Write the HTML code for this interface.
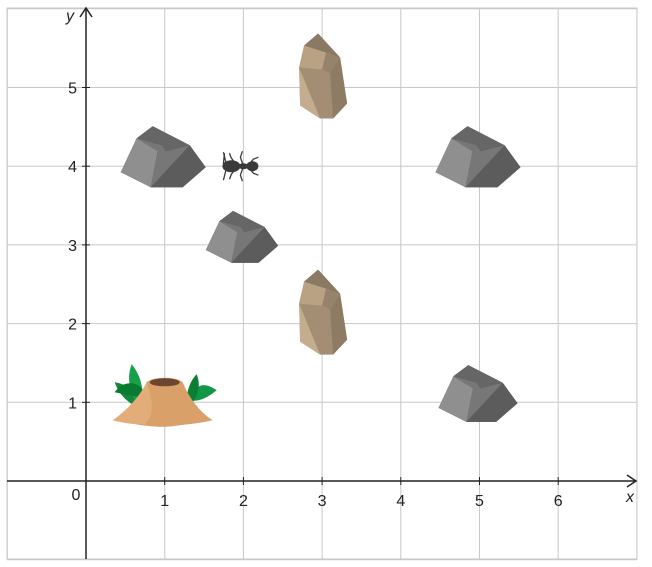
<!DOCTYPE html>
<html><head><meta charset="utf-8"><style>
html,body{margin:0;padding:0;background:#fff;}
svg{display:block;font-family:"Liberation Sans",sans-serif;}
</style></head><body>
<svg id="chart" width="652" height="567" viewBox="0 0 652 567" xmlns="http://www.w3.org/2000/svg">
<defs>
  <g id="rock">
    <polygon points="-11,-31 -27,-19 -43,15 -13,30 19,30 42,10 26,-12" fill="#575757"/>
    <polygon points="-27,-19 -43,15 -13,30 -6,-6" fill="#8f8f8f"/>
    <polygon points="-27,-19 -6,-6 -13,30 19,30 26,-12 2,-6 -2,-12" fill="#777"/>
    <polygon points="-13,30 19,30 42,10 26,-12" fill="#5c5c5c"/>
    <polygon points="-11,-31 -27,-19 -2,-12 2,-6 26,-12" fill="#666"/>
  </g>
  <g id="stone">
    <polygon points="-4,-54 -18,-42 -23,-20 -22,18 -2,31 11,31 25,16 18,-30" fill="#a38e74"/>
    <polygon points="-18,-42 -23,-20 -22,18 -2,31 -23,-20" fill="#c4ad8e"/>
    <polygon points="-18,-42 -23,-20 0,-18 4,-35" fill="#b9a284"/>
    <polygon points="-4,-54 -18,-42 4,-35 18,-30" fill="#8b7963"/>
    <polygon points="4,-35 18,-30 8,-14 0,-18" fill="#96836b"/>
    <polygon points="18,-30 25,16 11,31 8,-14" fill="#8e7b64"/>
  </g>
</defs>
<g id="grid"></g>
<g id="axes"></g>
<g id="objects"></g>
</svg>
<script>
const xTicks = [1,2,3,4,5,6];
const yTicks = [1,2,3,4,5];
const rocksX = [1,2,5,5];
const rocksY = [4,3,4,1];
const rocksScale = [1,0.85,1,0.93];
const stonesX = [3,3];
const stonesY = [5,2];
const antX = [2]; const antY = [4];
const hillX = [1]; const hillY = [1];

const X0=86, Y0=481, S=78.7;
const sx = v => X0 + v*S;
const sy = v => Y0 - v*S;
const NS="http://www.w3.org/2000/svg";
function mk(tag, attrs, parent){const e=document.createElementNS(NS,tag);for(const k in attrs)e.setAttribute(k,attrs[k]);parent.appendChild(e);return e;}
const grid=document.getElementById('grid'), axes=document.getElementById('axes'), objs=document.getElementById('objects');

for(let i=-1;i<=7;i++){const x=sx(i); if(x<7||x>638)continue;
  const l=mk('line',{x1:x,y1:8,x2:x,y2:559,stroke:'#c8c8c8','stroke-width':1},grid);
  
  }
for(let j=-1;j<=6;j++){const y=sy(j); if(y<7||y>560)continue;
  const l=mk('line',{x1:7,y1:y,x2:637,y2:y,stroke:'#c8c8c8','stroke-width':1},grid);
  
  }
const b=mk('rect',{x:7,y:8,width:630,height:551,fill:'none',stroke:'#c8c8c8'},grid);



let a=mk('line',{x1:7,y1:Y0,x2:636,y2:Y0,stroke:'#222','stroke-width':1.5},axes);


a=mk('polyline',{points:`627,475 636,${Y0} 627,487`,fill:'none',stroke:'#222','stroke-width':1.5},axes);


a=mk('line',{x1:X0,y1:559,x2:X0,y2:8,stroke:'#222','stroke-width':1.5},axes);


a=mk('polyline',{points:`80,17 ${X0},8 92,17`,fill:'none',stroke:'#222','stroke-width':1.5},axes);



xTicks.forEach(v=>{
  const t=mk('line',{x1:sx(v),y1:Y0-4,x2:sx(v),y2:Y0+4,stroke:'#222'},axes);
  
  
  const l=mk('text',{x:sx(v),y:Y0+25,'text-anchor':'middle','font-size':16,fill:'#222'},axes);
  l.textContent=v;
  
  
});
yTicks.forEach(v=>{
  const t=mk('line',{x1:X0-4,y1:sy(v),x2:X0+4,y2:sy(v),stroke:'#222'},axes);
  
  
  const l=mk('text',{x:X0-9,y:sy(v)+6,'text-anchor':'end','font-size':16,fill:'#222'},axes);
  l.textContent=v;
  
  
});
let t=mk('text',{x:76,y:500,'text-anchor':'middle','font-size':16,fill:'#222'},axes); t.textContent='0';


t=mk('text',{x:630,y:502,'text-anchor':'middle','font-size':16,'font-style':'italic',fill:'#222'},axes); t.textContent='x';


t=mk('text',{x:70,y:21,'text-anchor':'middle','font-size':16,'font-style':'italic',fill:'#222'},axes); t.textContent='y';



rocksX.forEach((v,i)=>{
  const s=rocksScale[i];
  const u=mk('use',{href:'#rock',transform:`translate(${sx(v)-1},${sy(rocksY[i])-9*s}) scale(${s})`},objs);
  
  
});
stonesX.forEach((v,i)=>{
  const u=mk('use',{href:'#stone',transform:`translate(${sx(v)},${sy(stonesY[i])})`},objs);
  
  
});
antX.forEach((v,i)=>{
  const g=mk('g',{transform:`translate(${sx(v)},${sy(antY[i])})`,stroke:'#3a3a3a','stroke-width':1.3,fill:'none'},objs);
  
  
  ['M-6,0 L-12,-8 L-14,-13','M-6,0 L-12,8 L-14,13','M0,0 L-3,-9 L-1,-15','M0,0 L-3,9 L-1,15','M4,0 L10,-7 L15,-9','M4,0 L10,7 L15,9','M-17,-2 L-20,-14','M-17,2 L-20,14','M-20,-2 L-19,-13'].forEach(d=>mk('path',{d},g));
  mk('ellipse',{cx:-12,cy:0,rx:9,ry:6,fill:'#3a3a3a',stroke:'none'},g);
  mk('ellipse',{cx:0,cy:0,rx:5,ry:3,fill:'#3a3a3a',stroke:'none'},g);
  mk('ellipse',{cx:9,cy:0,rx:6,ry:5,fill:'#3a3a3a',stroke:'none'},g);
});
hillX.forEach((v,i)=>{
  const g=mk('g',{transform:`translate(${sx(v)},${sy(hillY[i])})`},objs);
  
  
  mk('path',{d:'M-28,5 C-45,-5 -48,-15 -50,-20 C-38,-18 -30,-12 -26,-2 Z',fill:'#0f8a3a'},g);
  mk('path',{d:'M-30,-2 C-38,-20 -36,-30 -33,-38 C-25,-28 -22,-18 -22,-5 Z',fill:'#17a04a'},g);
  mk('path',{d:'M-20,-5 C-20,-20 -40,-25 -50,-10 C-40,-8 -30,-6 -20,-5 Z',fill:'#0a7a30'},g);
  mk('path',{d:'M24,-2 C32,-20 40,-20 52,-12 C42,-4 34,0 24,-2 Z',fill:'#13964a'},g);
  mk('path',{d:'M22,-6 C24,-18 28,-24 32,-28 C36,-18 34,-8 28,0 Z',fill:'#0c7f35'},g);
  mk('path',{d:'M-18,-20 C-12,-26 12,-26 18,-20 C24,-5 35,10 48,18 C30,22 20,22 8,24 C-10,26 -30,22 -52,18 C-40,10 -25,-5 -18,-20 Z',fill:'#d9a06a'},g);
  mk('path',{d:'M-18,-20 C-14,-5 -8,10 -20,22 C-35,22 -45,20 -52,18 C-40,10 -25,-5 -18,-20 Z',fill:'#e2ad78'},g);
  mk('ellipse',{cx:0,cy:-20,rx:15,ry:4,fill:'#6b4630'},g);
});
</script>
</body></html>
